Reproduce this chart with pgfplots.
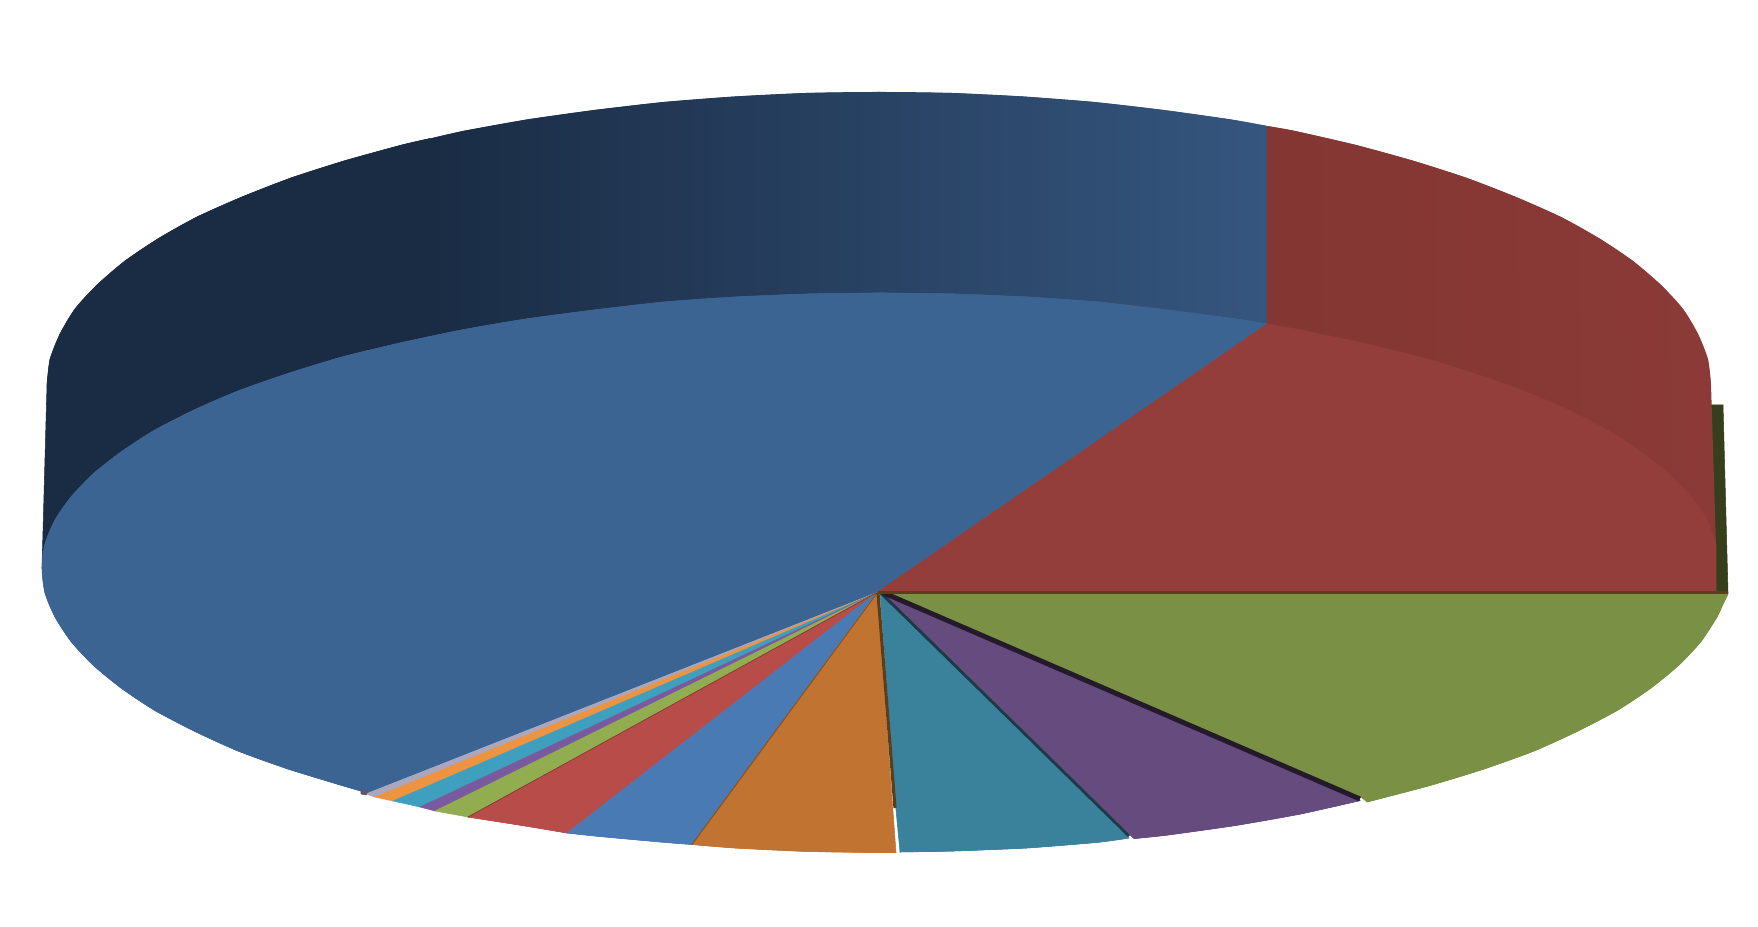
\documentclass[border=0pt]{standalone}
\usepackage{pgfplots}
\pgfplotsset{compat=1.18}

\definecolor{faceblue}{HTML}{3C6493}
\definecolor{wallblueA}{HTML}{1A2C44}
\definecolor{wallblueB}{HTML}{35567F}
\definecolor{facered}{HTML}{943E3B}
\definecolor{wallredA}{HTML}{833632}
\definecolor{wallredB}{HTML}{8B3A37}
\definecolor{olive}{HTML}{363F1C}
\definecolor{darkbrown}{HTML}{5A3F1A}
\definecolor{mauve}{HTML}{5F5470}
\definecolor{green1}{HTML}{7A9044}
\definecolor{purple1}{HTML}{664B7E}
\definecolor{teal1}{HTML}{3A829C}
\definecolor{orange1}{HTML}{C17432}
\definecolor{blue2}{HTML}{4A7AB4}
\definecolor{red2}{HTML}{B84C48}
\definecolor{green2}{HTML}{91AD50}
\definecolor{purple2}{HTML}{7A5A9E}
\definecolor{cyan2}{HTML}{3EA0BE}
\definecolor{orange2}{HTML}{EE9340}
\definecolor{gray2}{HTML}{A9A7BE}

\begin{document}
\begin{tikzpicture}
\begin{axis}[
    name=ax,
    scale only axis, width=17.58cm, height=9.27cm,
    xmin=0, xmax=1758, ymin=0, ymax=927, y dir=reverse,
    hide axis, no markers,
    slice/.style={draw=#1, fill=#1, line width=0.15pt},
    arc/.style={draw=#1, fill=#1, line width=0.15pt, smooth},
]
% dark strip to the right of the red slice
\addplot[slice=olive] coordinates {(1700,405) (1723,405) (1728,593) (1700,593)} -- cycle;
% side wall, blue part (dark end, then the shaded run up to the red)
\addplot[slice=wallblueA] coordinates {
    (42,568) (47,385) (50,359.5) (60,334) (75,309) (97,285) (125,261) (158.5,238.5)
    (197,217) (242,197) (291,178) (344,161) (402,145) (430,138.6) (431,337)
} -- cycle;
\addplot[arc=wallblueA] coordinates {
    (47,385) (50,359.5) (60,334) (75,309) (97,285) (125,261) (158.5,238.5)
    (197,217) (242,197) (291,178) (344,161) (402,145) (430,138.6)
};
\addplot[draw=none, left color=wallblueA, right color=wallblueB] coordinates {
    (430,138.6) (463,131) (527,119.5) (594.5,110) (664,102) (735,96.5) (806.5,93) (879,92)
    (951.5,93) (1023,96.5) (1094,102) (1163.5,110) (1231,119.5) (1267,126)
    (1267,324) (881,300) (430,340)
} -- cycle;
\addplot[draw=none, left color=wallblueA, right color=wallblueB, smooth] coordinates {
    (430,138.6) (463,131) (527,119.5) (594.5,110) (664,102) (735,96.5) (806.5,93) (879,92)
    (951.5,93) (1023,96.5) (1094,102) (1163.5,110) (1231,119.5) (1267,126)
};
% side wall, red part
\addplot[draw=none, left color=wallredA, right color=wallredB] coordinates {
    (1267,126) (1295,131) (1356,145) (1414,161) (1467,178) (1516,197) (1561,217)
    (1599.5,238.5) (1633,261) (1661,285) (1683,309) (1698,334) (1708,359.5) (1711,385)
    (1716,545) (1267,330)
} -- cycle;
\addplot[draw=none, left color=wallredA, right color=wallredB, smooth] coordinates {
    (1267,126) (1295,131) (1356,145) (1414,161) (1467,178) (1516,197) (1561,217)
    (1599.5,238.5) (1633,261) (1661,285) (1683,309) (1698,334) (1708,359.5) (1711,385)
};
% top face, big slices
\addplot[slice=faceblue] coordinates {
    (876,593) (366,793.5) (361,791) (342,785.5) (288,769) (238,751) (194,731) (154,710) (121,688)
    (93,665) (71,641.5) (55,617) (45,593) (42,568) (45,544) (55,520) (71,497) (93,474)
    (121,452) (154,430.5) (194,410) (238,391) (288,373.5) (342,357) (400,343)
    (461.5,330) (526,319) (594,310) (664,302) (735,297) (808,294) (881,293)
    (954,294) (1027,297) (1098,302) (1168,310) (1236,319) (1267,324)
} -- cycle;
\addplot[arc=faceblue] coordinates {
    (361,791) (342,785.5) (288,769) (238,751) (194,731) (154,710) (121,688)
    (93,665) (71,641.5) (55,617) (45,593) (42,568) (45,544) (55,520) (71,497) (93,474)
    (121,452) (154,430.5) (194,410) (238,391) (288,373.5) (342,357) (400,343)
    (461.5,330) (526,319) (594,310) (664,302) (735,297) (808,294) (881,293)
    (954,294) (1027,297) (1098,302) (1168,310) (1236,319) (1267,324)
};
\addplot[slice=facered] coordinates {
    (876,593) (1267,324) (1300.5,330) (1362,343) (1420,357) (1474,373.5) (1524,391)
    (1568,410) (1608,430.5) (1641,452) (1669,474) (1691,497) (1707,520) (1716,545)
    (1716,592)
} -- cycle;
\addplot[arc=facered] coordinates {
    (1267,324) (1300.5,330) (1362,343) (1420,357) (1474,373.5) (1524,391)
    (1568,410) (1608,430.5) (1641,452) (1669,474) (1691,497) (1707,520) (1716,545)
};
% small slices
\addplot[slice=gray2] coordinates {(876,593) (366,794) (375,797)} -- cycle;
\addplot[slice=mauve] coordinates {(361,789) (368,791.5) (366,795) (361,794)} -- cycle;
\addplot[slice=orange2] coordinates {(876,593) (375,797) (393,801)} -- cycle;
\addplot[slice=cyan2] coordinates {(876,593) (393,801) (420,807)} -- cycle;
\addplot[slice=purple2] coordinates {(876,593) (420,807) (435,811)} -- cycle;
\addplot[slice=green2] coordinates {(876,593) (435,811) (468,817)} -- cycle;
\addplot[slice=red2] coordinates {(876,593) (468,817) (526,826) (567,833)} -- cycle;
\addplot[arc=red2] coordinates {(468,817) (526,826) (567,833)};
\addplot[slice=blue2] coordinates {(876,593) (567,833) (600,836.5) (664,842.3) (692,844.5)} -- cycle;
\addplot[arc=blue2] coordinates {(567,833) (600,836.5) (664,842.3) (692,844.5)};
\addplot[slice=orange1] coordinates {(877,593) (692,844.5) (735,848) (808,851.5) (881,852.5) (896,852.5)} -- cycle;
\addplot[arc=orange1] coordinates {(692,844.5) (735,848) (808,851.5) (881,852.5) (896,852.5)};
\addplot[slice=teal1] coordinates {(880,593) (896,810) (900,852) (954,851) (1027,848) (1098,842.3) (1129,838)} -- cycle;
\addplot[arc=teal1] coordinates {(900,852) (954,851) (1027,848) (1098,842.3) (1129,838)};
\addplot[slice=purple1] coordinates {(879,593) (1129,834) (1134,838.6) (1168,835) (1236,825.4) (1300.5,814) (1360,800.6)} -- cycle;
\addplot[arc=purple1] coordinates {(1134,838.6) (1168,835) (1236,825.4) (1300.5,814) (1360,800.6)};
\addplot[slice=green1] coordinates {
    (884,593) (1728,594) (1723,604) (1717,617) (1701,641.5) (1679,665) (1651,688) (1618,710)
    (1578,731) (1534,751) (1484,769) (1430,785.5) (1367,802) (1361,797)
} -- cycle;
\addplot[arc=green1] coordinates {
    (1728,594) (1723,604) (1717,617) (1701,641.5) (1679,665) (1651,688) (1618,710)
    (1578,731) (1534,751) (1484,769) (1430,785.5) (1367,802)
};
% dark edges between the slices
\addplot[color=orange1!70!black, line width=0.3pt] coordinates {(877,593) (692,844.5)};
\addplot[color=red2!75!black, line width=0.2pt] coordinates {(876,593) (468,817)};
\addplot[color=darkbrown, line width=0.9pt] coordinates {(878,593) (895,808)};
\addplot[color=teal1!45!black, line width=0.8pt] coordinates {(881,593) (1129,836)};
\addplot[color=purple1!35!black, line width=1.4pt] coordinates {(884,593) (1360,799)};
\addplot[color=darkbrown, line width=0.7pt] coordinates {(878,592.5) (1728,592.5)};
\end{axis}
\path (ax.south west) (ax.north east);
\end{tikzpicture}
\end{document}
